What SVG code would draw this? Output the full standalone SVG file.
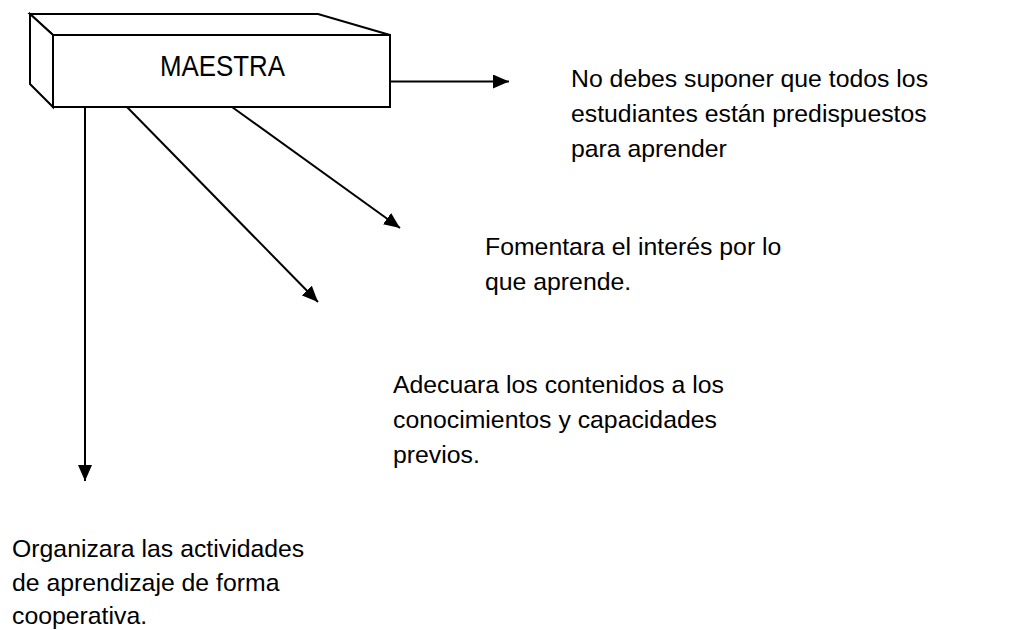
<svg xmlns="http://www.w3.org/2000/svg" width="1012" height="630" viewBox="0 0 1012 630">
<style>
.t{font-family:"Liberation Sans",Arial,sans-serif;font-size:24.8px;fill:#000}
.b{fill:#fff;stroke:#000;stroke-width:2}
.c{stroke:#000;stroke-width:2;fill:none}
</style>
<defs>
<marker id="ah" markerUnits="userSpaceOnUse" markerWidth="18" markerHeight="14" refX="16" refY="7" orient="auto">
<path d="M0,0 L16,7 L0,14 Z" fill="#000"/>
</marker>
</defs>
<rect width="1012" height="630" fill="#fff"/>
<g id="maestra">
<polygon class="b" points="30,14 318,14 390,35 53,35"/>
<polygon class="b" points="30,14 53,35 53,107 30,84"/>
<rect class="b" x="53" y="35" width="337" height="72"/>
<text x="160" y="76" class="t" style="font-size:30px" textLength="125" lengthAdjust="spacingAndGlyphs">MAESTRA</text>
</g>
<g id="connectors">
<line class="c" x1="390" y1="81.5" x2="509" y2="81.5" marker-end="url(#ah)"/>
<line class="c" x1="232" y1="107" x2="400" y2="228" marker-end="url(#ah)"/>
<line class="c" x1="127" y1="107" x2="318" y2="302" marker-end="url(#ah)"/>
<line class="c" x1="85" y1="107" x2="85" y2="481" marker-end="url(#ah)"/>
</g>
<g id="n1">
<text class="t" x="571" y="87">No debes suponer que todos los</text>
<text class="t" x="571" y="122">estudiantes están predispuestos</text>
<text class="t" x="571" y="157">para aprender</text>
</g>
<g id="n2">
<text class="t" x="485" y="255">Fomentara el interés por lo</text>
<text class="t" x="485" y="290">que aprende.</text>
</g>
<g id="n3">
<text class="t" x="393" y="393">Adecuara los contenidos a los</text>
<text class="t" x="393" y="428">conocimientos y capacidades</text>
<text class="t" x="393" y="463">previos.</text>
</g>
<g id="n4">
<text class="t" x="12" y="557">Organizara las actividades</text>
<text class="t" x="12" y="591">de aprendizaje de forma</text>
<text class="t" x="12" y="624">cooperativa.</text>
</g>
</svg>
